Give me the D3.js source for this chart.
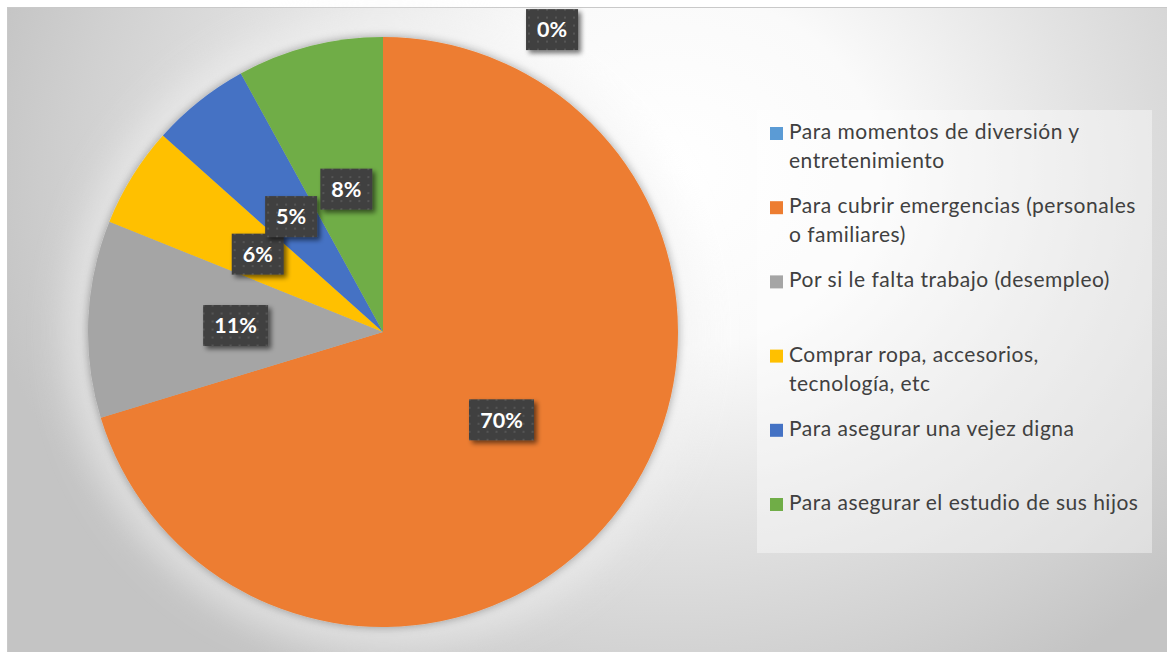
<!DOCTYPE html>
<html>
<head>
<meta charset="utf-8">
<script src="https://cdn.jsdelivr.net/npm/d3@7"></script>
<style>
html,body{margin:0;padding:0;background:#ffffff;}
svg{display:block;}
</style>
</head>
<body>
<svg id="chart" width="1167" height="652"></svg>
<script>
// ---- data ----
const categories = [
  "Para momentos de diversión y entretenimiento",
  "Para cubrir emergencias (personales o familiares)",
  "Por si le falta trabajo (desempleo)",
  "Comprar ropa, accesorios, tecnología, etc",
  "Para asegurar una vejez digna",
  "Para asegurar el estudio de sus hijos"
];
const legendLines = [
  ["Para momentos de diversión y", "entretenimiento"],
  ["Para cubrir emergencias (personales", "o familiares)"],
  ["Por si le falta trabajo (desempleo)"],
  ["Comprar ropa, accesorios,", "tecnología, etc"],
  ["Para asegurar una vejez digna"],
  ["Para asegurar el estudio de sus hijos"]
];
const values = [0, 70.3, 10.8, 5.5, 5.4, 8.0];
const valueLabels = ["0%", "70%", "11%", "6%", "5%", "8%"];
const colors = ["#5B9BD5", "#ED7D31", "#A5A5A5", "#FFC000", "#4472C4", "#70AD47"];

// ---- layout ----
const W = 1167, H = 652;
const cx = 383, cy = 332, R = 295;
const svg = d3.select("#chart");
const defs = svg.append("defs");

// background gradient
const bg = defs.append("radialGradient").attr("id", "bgGrad")
  .attr("gradientUnits", "userSpaceOnUse")
  .attr("cx", 670).attr("cy", 170).attr("r", 700)
  .attr("gradientTransform", "translate(670,170) scale(1,0.85) translate(-670,-170)");
[[0, "#ffffff"], [0.3, "#fafafa"], [0.6, "#e2e2e2"], [0.85, "#d0d0d0"], [1, "#c4c4c4"]]
  .forEach(s => bg.append("stop").attr("offset", s[0]).attr("stop-color", s[1]));

// glow & shadow filters
const glow = defs.append("filter").attr("id", "glow")
  .attr("x", "-30%").attr("y", "-30%").attr("width", "160%").attr("height", "160%");
glow.append("feGaussianBlur").attr("stdDeviation", 18);

const pieShadow = defs.append("filter").attr("id", "pieShadow")
  .attr("x", "-10%").attr("y", "-10%").attr("width", "120%").attr("height", "120%");
pieShadow.append("feGaussianBlur").attr("in", "SourceAlpha").attr("stdDeviation", 5).attr("result", "b");
pieShadow.append("feComponentTransfer").attr("in", "b").attr("result", "b2")
  .append("feFuncA").attr("type", "linear").attr("slope", 0.35);
const pm = pieShadow.append("feMerge");
pm.append("feMergeNode").attr("in", "b2");
pm.append("feMergeNode").attr("in", "SourceGraphic");

const lblShadow = defs.append("filter").attr("id", "lblShadow")
  .attr("x", "-30%").attr("y", "-30%").attr("width", "160%").attr("height", "160%");
lblShadow.append("feGaussianBlur").attr("in", "SourceAlpha").attr("stdDeviation", 2.5).attr("result", "b");
lblShadow.append("feOffset").attr("in", "b").attr("dx", 3).attr("dy", 3).attr("result", "o");
lblShadow.append("feComponentTransfer").attr("in", "o").attr("result", "o2")
  .append("feFuncA").attr("type", "linear").attr("slope", 0.55);
const lm = lblShadow.append("feMerge");
lm.append("feMergeNode").attr("in", "o2");
lm.append("feMergeNode").attr("in", "SourceGraphic");

// dotted pattern for labels
const pat = defs.append("pattern").attr("id", "dots")
  .attr("patternUnits", "userSpaceOnUse").attr("width", 9).attr("height", 8);
pat.append("rect").attr("width", 9).attr("height", 8).attr("fill", "#404040");
pat.append("rect").attr("x", 3).attr("y", 3).attr("width", 2).attr("height", 2).attr("fill", "#555555");

// chart area
svg.append("rect").attr("x", 7.5).attr("y", 7.5).attr("width", W + 10).attr("height", H + 10)
  .attr("fill", "url(#bgGrad)").attr("stroke", "#c9c9c9").attr("stroke-width", 1);

// pie
const pie = d3.pie().value(d => d).sort(null);
const arcs = pie(values);
const arc = d3.arc().innerRadius(0).outerRadius(R);

const g = svg.append("g").attr("transform", `translate(${cx},${cy})`);
g.append("circle").attr("r", R + 22).attr("fill", "#f2f2f2").attr("opacity", 0.55).attr("filter", "url(#glow)");
const pg = g.append("g").attr("filter", "url(#pieShadow)");
pg.selectAll("path").data(arcs).enter().append("path")
  .attr("d", arc).attr("fill", (d, i) => colors[i]);

// data labels
const labelFont = "Lato, 'Open Sans', sans-serif";
const lg = svg.append("g");
arcs.forEach((d, i) => {
  let [x, y] = arc.centroid(d);
  x += cx; y += cy;
  if (values[i] === 0) {
    // zero slice label placed outside (best fit above pie)
    x = cx + R * 0.573; y = cy - R * 1.025;
  }
  const grp = lg.append("g").attr("transform", `translate(${x},${y})`);
  const t = grp.append("text").text(valueLabels[i])
    .attr("text-anchor", "middle").attr("dy", "0.36em")
    .attr("font-family", labelFont).attr("font-weight", "bold")
    .attr("font-size", 21.5).attr("fill", "#ffffff");
  const tw = t.node().getComputedTextLength();
  const bw = Math.round(tw + 22), bh = 41;
  grp.insert("rect", "text").attr("x", -bw / 2).attr("y", -bh / 2)
    .attr("width", bw).attr("height", bh).attr("fill", "url(#dots)")
    .attr("filter", "url(#lblShadow)");
});

// legend
const legX = 757, legY = 110, legW = 395, legH = 443;
svg.append("rect").attr("x", legX).attr("y", legY).attr("width", legW).attr("height", legH)
  .attr("fill", "#ffffff").attr("opacity", 0.4);
const legFont = "Lato, 'Open Sans', sans-serif";
const legG = svg.append("g");
const firstBase = 139, step = 74.2, lineH = 29;
legendLines.forEach((lines, i) => {
  const by = firstBase + i * step;
  legG.append("rect").attr("x", 770).attr("y", by - 12).attr("width", 13).attr("height", 13)
    .attr("fill", colors[i]);
  const t = legG.append("text").attr("x", 789).attr("y", by)
    .attr("font-family", legFont).attr("font-size", 21).attr("letter-spacing", 0.5)
    .attr("fill", "#404040");
  lines.forEach((ln, j) => {
    t.append("tspan").attr("x", 789).attr("y", by + j * lineH).text(ln);
  });
});
</script>
</body>
</html>
